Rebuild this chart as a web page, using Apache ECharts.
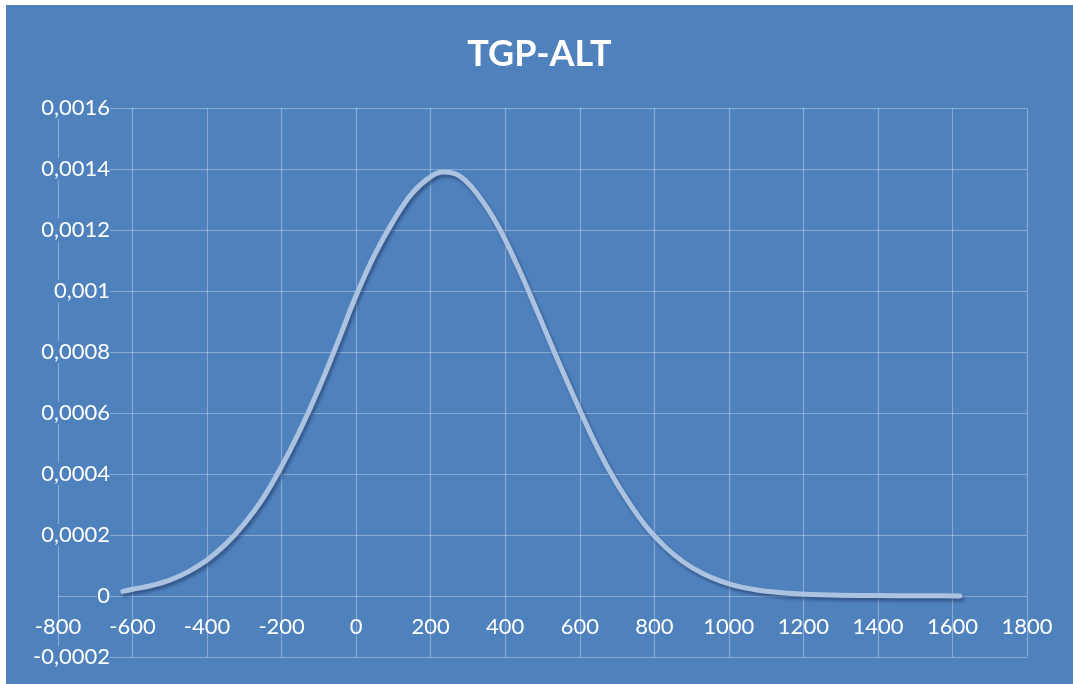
<!DOCTYPE html>
<html>
<head>
<meta charset="utf-8">
<script src="https://cdn.jsdelivr.net/npm/echarts@6/dist/echarts.min.js"></script>
<style>
  html, body { margin: 0; padding: 0; background: #ffffff; }
  #chart { position: absolute; left: 6px; top: 5px; width: 1067px; height: 679px; }
</style>
</head>
<body>
<div id="chart"></div>
<script>
const titleText = 'TGP-ALT';
const xValues = [-626, -600, -550, -500, -450, -400, -350, -300, -250, -200, -150, -100, -50, 0, 50, 100, 150, 200, 235, 280, 330, 380, 430, 480, 530, 580, 630, 680, 730, 780, 830, 880, 930, 980, 1030, 1080, 1130, 1180, 1250, 1350, 1450, 1550, 1620];
const densityValues = [0.000015, 0.000022, 0.000034, 0.000052, 0.000080, 0.000118, 0.000170, 0.000237, 0.000320, 0.000425, 0.000545, 0.000680, 0.000830, 0.000985, 0.001120, 0.001230, 0.001320, 0.001375, 0.001390, 0.001375, 0.001310, 0.001215, 0.001090, 0.000950, 0.000805, 0.000665, 0.000530, 0.000410, 0.000310, 0.000225, 0.000160, 0.000110, 0.000074, 0.000048, 0.000030, 0.000019, 0.000012, 0.000007, 0.000004, 0.000002, 0.000001, 0.0000005, 0.0000003];
const xTicks = { min: -800, max: 1800, interval: 200 };
const yTicks = { min: -0.0002, max: 0.0016, interval: 0.0002 };

const seriesData = xValues.map((x, i) => [x, densityValues[i]]);
const bg = '#4f81bd';
const gridColor = 'rgba(255,255,255,0.32)';
const font = 'Lato, "Open Sans", sans-serif';

const chart = echarts.init(document.getElementById('chart'), null, { renderer: 'canvas' });
// x-axis labels sit on the zero line: offset the axis up by the zero line's distance from the bottom
const gridTop = 103, gridBottom = 27, chartH = 679;
const plotH = chartH - gridTop - gridBottom;
const zeroOffset = -plotH * (0 - yTicks.min) / (yTicks.max - yTicks.min);

chart.setOption({
  backgroundColor: bg,
  animation: false,
  title: {
    text: titleText,
    left: 'center',
    top: 26,
    textStyle: { color: '#ffffff', fontSize: 36, fontWeight: 'bold', fontFamily: font }
  },
  grid: { left: 52, right: 46, top: gridTop, bottom: gridBottom, containLabel: false, outerBoundsMode: 'none' },
  xAxis: {
    type: 'value',
    position: 'bottom',
    offset: zeroOffset,
    min: xTicks.min, max: xTicks.max, interval: xTicks.interval,
    axisLine: { show: false, onZero: false },
    axisTick: { show: false },
    splitLine: { show: true, lineStyle: { color: gridColor, width: 1.2 } },
    axisLabel: {
      color: '#ffffff', fontSize: 22, fontFamily: font, margin: 20,
      showMinLabel: true, showMaxLabel: true,
      formatter: v => String(v)
    }
  },
  yAxis: {
    type: 'value',
    min: yTicks.min, max: yTicks.max, interval: yTicks.interval,
    axisLine: { show: false },
    axisTick: { show: false },
    splitLine: { show: true, lineStyle: { color: gridColor, width: 1.2 } },
    axisLabel: {
      color: '#ffffff', fontSize: 22, fontFamily: font, margin: -52, align: 'right',
      backgroundColor: bg,
      showMinLabel: true, showMaxLabel: true,
      formatter: v => parseFloat(v.toFixed(4)).toString().replace('.', ',')
    }
  },
  series: [{
    type: 'line',
    data: seriesData,
    smooth: 0.4,
    showSymbol: false,
    symbol: 'none',
    lineStyle: {
      color: '#abc3e0', width: 5, cap: 'round', join: 'round',
      shadowColor: 'rgba(20,40,80,0.45)', shadowBlur: 3, shadowOffsetX: 2, shadowOffsetY: 3
    },
    z: 5
  }]
});
</script>
</body>
</html>
